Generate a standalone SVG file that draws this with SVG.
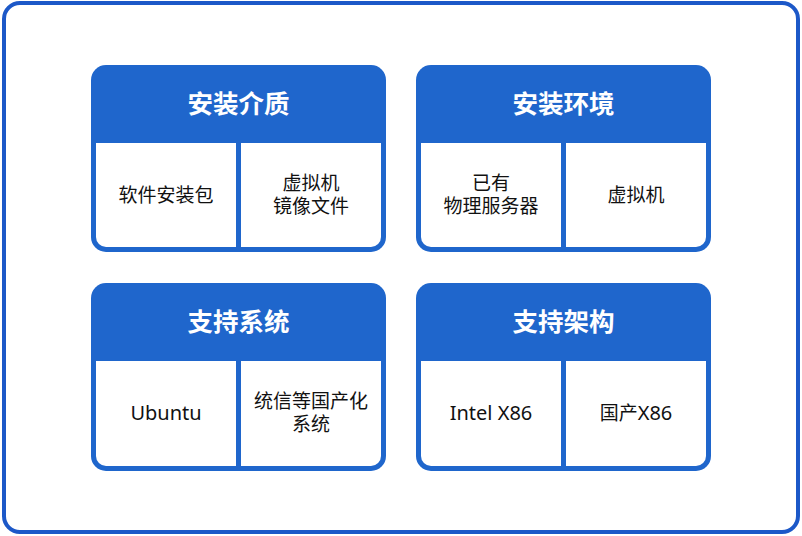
<svg xmlns="http://www.w3.org/2000/svg" width="802" height="536" viewBox="0 0 802 536">
<style>
.frame{fill:#fff;stroke:#1c58c8;stroke-width:4}
.card{fill:#1f66cc}
.cell{fill:#fff}
.title{font-family:"Noto Sans CJK SC","Noto Sans",sans-serif;font-weight:bold;font-size:25.5px;fill:#fff;text-anchor:middle}
.txt{font-family:"Noto Sans CJK SC","Noto Sans",sans-serif;font-size:19px;fill:#111;text-anchor:middle}
.lat{font-family:"Noto Sans","Noto Sans CJK SC",sans-serif;font-size:20px}
</style>
<rect width="802" height="536" fill="#fff"/>
<rect class="frame" x="4" y="3" width="794" height="529" rx="16"/>
<g id="node-media">
<rect class="card" x="91" y="65" width="295" height="187" rx="15"/>
<path class="cell" d="M96 143H236V247H106A10 10 0 0 1 96 237Z"/>
<path class="cell" d="M241 143H381V237A10 10 0 0 1 371 247H241Z"/>
<text class="title" x="238.5" y="112.5">安装介质</text>
<text class="txt" x="166" y="202">软件安装包</text>
<text class="txt" x="311" y="190">虚拟机<tspan x="311" dy="23">镜像文件</tspan></text>
</g>
<g id="node-env">
<rect class="card" x="416" y="65" width="295" height="187" rx="15"/>
<path class="cell" d="M421 143H561V247H431A10 10 0 0 1 421 237Z"/>
<path class="cell" d="M566 143H706V237A10 10 0 0 1 696 247H566Z"/>
<text class="title" x="563.5" y="112.5">安装环境</text>
<text class="txt" x="491" y="190">已有<tspan x="491" dy="23">物理服务器</tspan></text>
<text class="txt" x="636" y="202">虚拟机</text>
</g>
<g id="node-os">
<rect class="card" x="91" y="283" width="295" height="188" rx="15"/>
<path class="cell" d="M96 361H236V466H106A10 10 0 0 1 96 456Z"/>
<path class="cell" d="M241 361H381V456A10 10 0 0 1 371 466H241Z"/>
<text class="title" x="238.5" y="330.5">支持系统</text>
<text class="txt lat" x="166" y="420">Ubuntu</text>
<text class="txt" x="311" y="408">统信等国产化<tspan x="311" dy="23">系统</tspan></text>
</g>
<g id="node-arch">
<rect class="card" x="416" y="283" width="295" height="188" rx="15"/>
<path class="cell" d="M421 361H561V466H431A10 10 0 0 1 421 456Z"/>
<path class="cell" d="M566 361H706V456A10 10 0 0 1 696 466H566Z"/>
<text class="title" x="563.5" y="330.5">支持架构</text>
<text class="txt lat" x="491" y="420">Intel X86</text>
<text class="txt" x="636" y="420">国产<tspan class="lat">X86</tspan></text>
</g>
<g id="connectors"></g>
</svg>
